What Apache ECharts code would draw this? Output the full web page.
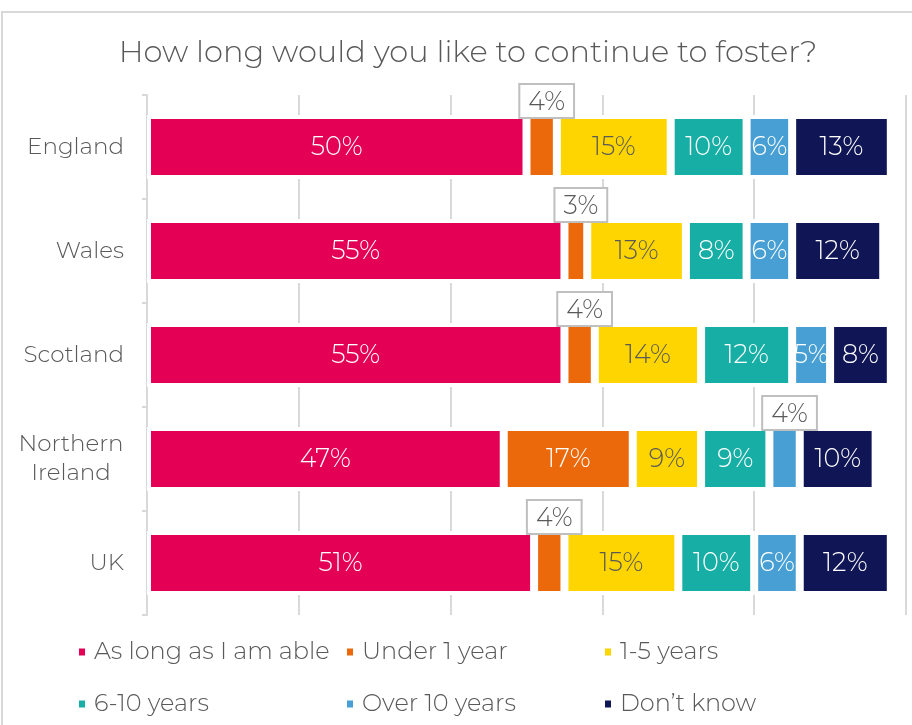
<!DOCTYPE html>
<html>
<head>
<meta charset="utf-8">
<title>How long would you like to continue to foster?</title>
<script src="https://cdn.jsdelivr.net/npm/echarts@6/dist/echarts.min.js"></script>
<style>
  html, body { margin: 0; padding: 0; background: #ffffff; }
  #chart { width: 912px; height: 725px; }
</style>
</head>
<body>
<div id="chart"></div>
<script>
// Nations, top to bottom
const nations = ['England', 'Wales', 'Scotland', 'Northern Ireland', 'UK'];

// Share of foster carers (%) for each answer, per nation
const asLongAsAble = [50, 55, 55, 47, 51];
const under1Year   = [4, 3, 4, 17, 4];
const years1to5    = [15, 13, 14, 9, 15];
const years6to10   = [10, 8, 12, 9, 10];
const over10Years  = [6, 6, 5, 4, 6];
const dontKnow     = [13, 12, 8, 10, 12];

const answerNames = ['As long as I am able', 'Under 1 year', '1-5 years', '6-10 years', 'Over 10 years', 'Don\u2019t know'];
const answerValues = [asLongAsAble, under1Year, years1to5, years6to10, over10Years, dontKnow];
const answerColors = ['#E30055', '#EB690B', '#FFD500', '#17AFA5', '#479FD3', '#101655'];

const FONT = "Montserrat, 'Open Sans', sans-serif";
const GREY_TEXT = '#595959';

// Segments too narrow for an inside label get a boxed callout above the bar
function buildData(values) {
  return values.map(function (v) {
    if (v <= 4) {
      return {
        value: v,
        label: {
          position: 'top',
          distance: -2,
          offset: [5, 0],
          color: GREY_TEXT,
          backgroundColor: '#ffffff',
          borderColor: '#bfbfbf',
          borderWidth: 2,
          padding: [4, 8, 2, 8]
        }
      };
    }
    return v;
  });
}

const series = answerNames.map(function (name, i) {
  return {
    name: name,
    type: 'bar',
    stack: 'total',
    barWidth: 64,
    itemStyle: { color: answerColors[i], borderColor: '#ffffff', borderWidth: 4 },
    label: {
      show: true,
      position: 'inside',
      formatter: '{c}%',
      fontFamily: FONT,
      fontWeight: 300,
      fontSize: 25.5,
      color: i === 2 ? GREY_TEXT : '#ffffff'
    },
    emphasis: { disabled: true },
    data: buildData(answerValues[i])
  };
});

function legendColumn(names, left) {
  return {
    orient: 'vertical',
    left: left,
    top: 633,
    itemWidth: 8,
    itemHeight: 9,
    itemGap: 24,
    icon: 'rect',
    selectedMode: false,
    data: names,
    textStyle: { fontFamily: FONT, fontWeight: 300, fontSize: 24, lineHeight: 28, color: GREY_TEXT, padding: [0, 0, 0, 3] }
  };
}

const chart = echarts.init(document.getElementById('chart'), null, { renderer: 'canvas' });
chart.setOption({
  animation: false,
  backgroundColor: '#ffffff',
  title: {
    text: 'How long would you like to continue to foster?',
    left: 463,
    textAlign: 'center',
    top: 33,
    textStyle: { fontFamily: FONT, fontSize: 30.5, fontWeight: 300, color: GREY_TEXT }
  },
  graphic: [{
    type: 'rect',
    shape: { x: 2, y: 12, width: 940, height: 760 },
    style: { fill: 'none', stroke: '#d9d9d9', lineWidth: 2 },
    silent: true,
    z: 100
  }],
  legend: [
    legendColumn([answerNames[0], answerNames[3]], 72),
    legendColumn([answerNames[1], answerNames[4]], 340),
    legendColumn([answerNames[2], answerNames[5]], 598)
  ],
  grid: { left: 147, right: 6, top: 95, bottom: 110, containLabel: false },
  xAxis: {
    type: 'value',
    min: 0,
    max: 100,
    interval: 20,
    axisLabel: { show: false },
    axisLine: { show: false },
    axisTick: { show: false },
    splitLine: { show: true, lineStyle: { color: '#d9d9d9', width: 2 } }
  },
  yAxis: {
    type: 'category',
    inverse: true,
    data: nations,
    axisLine: { show: true, lineStyle: { color: '#d9d9d9', width: 2 } },
    axisTick: { show: true, length: 5, lineStyle: { color: '#d9d9d9', width: 2 } },
    axisLabel: {
      margin: 23,
      fontFamily: FONT,
      fontWeight: 300,
      fontSize: 23,
      color: GREY_TEXT,
      lineHeight: 29,
      formatter: function (v) {
        if (v === 'Northern Ireland') {
          return '{c|Northern}\n{c|Ireland}';
        }
        return v;
      },
      rich: {
        c: { width: 106, align: 'center', fontFamily: FONT, fontWeight: 300, fontSize: 23, color: GREY_TEXT, lineHeight: 29 }
      }
    }
  },
  series: series
});
</script>
</body>
</html>
